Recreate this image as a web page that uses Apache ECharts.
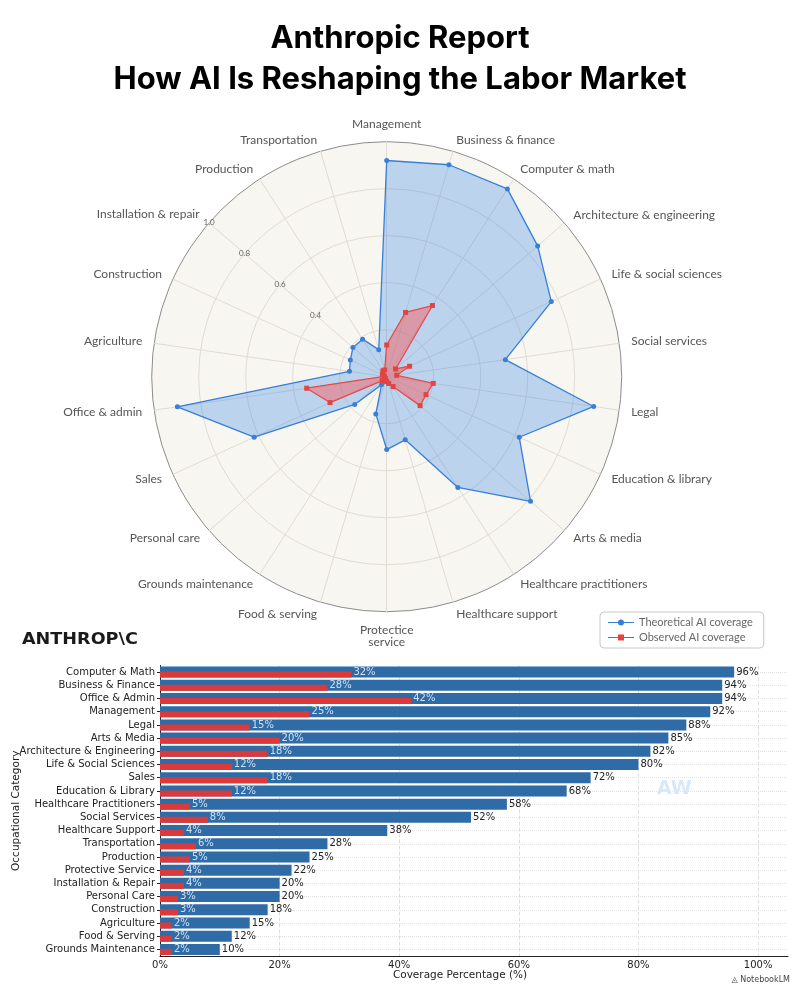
<!DOCTYPE html>
<html><head><meta charset="utf-8">
<script src="https://cdn.jsdelivr.net/npm/echarts@6/dist/echarts.min.js"></script>
<style>html,body{margin:0;padding:0;background:#fff}#c{width:800px;height:999px}</style>
</head><body><div id="c"></div>
<script>
// ---- Radar data (clockwise from top) ----
const radarCategories = ['Management','Business & finance','Computer & math','Architecture & engineering','Life & social sciences','Social services','Legal','Education & library','Arts & media','Healthcare practitioners','Healthcare support','Protectice\nservice','Food & serving','Grounds maintenance','Personal care','Sales','Office & admin','Agriculture','Construction','Installation & repair','Production','Transportation'];
const radarTheoretical = [0.92,0.94,0.95,0.85,0.77,0.51,0.89,0.62,0.81,0.56,0.28,0.31,0.165,0.04,0.18,0.62,0.90,0.16,0.17,0.19,0.19,0.12];
const radarObserved    = [0.135,0.285,0.36,0.05,0.107,0.043,0.20,0.184,0.188,0.05,0.03,0.02,0.02,0.01,0.025,0.265,0.344,0.01,0.02,0.02,0.03,0.03];
const radarTickLabels = ['', '', '0.4', '0.6', '0.8', '1.0'];
const radarLabelAxis = 'Installation & repair';

// ---- Bar data (top to bottom) ----
const barCategories = ['Computer & Math','Business & Finance','Office & Admin','Management','Legal','Arts & Media','Architecture & Engineering','Life & Social Sciences','Sales','Education & Library','Healthcare Practitioners','Social Services','Healthcare Support','Transportation','Production','Protective Service','Installation & Repair','Personal Care','Construction','Agriculture','Food & Serving','Grounds Maintenance'];
const barTheoretical = [96,94,94,92,88,85,82,80,72,68,58,52,38,28,25,22,20,20,18,15,12,10];
const barObserved    = [32,28,42,25,15,20,18,12,18,12,5,8,4,6,5,4,4,3,3,2,2,2];
const xTickLabels = ['0%','20%','40%','60%','80%','100%'];

// ECharts radar lays indicators counter-clockwise; reorder to get a clockwise layout
const n = radarCategories.length;
const order = [0];
for (let i = n - 1; i >= 1; i--) order.push(i);
const reorder = arr => order.map(i => arr[i]);

const indicators = order.map(i => {
  const ind = { name: radarCategories[i], min: 0, max: 1 };
  if (radarCategories[i] === radarLabelAxis) {
    ind.axisLabel = {
      show: true, color: '#666', fontSize: 8, fontFamily: 'Lato', margin: 0,
      align: 'center', verticalAlign: 'middle',
      formatter: v => radarTickLabels[Math.round(v * 5)] || ''
    };
  }
  return ind;
});

const BLUE = '#3a7fd6', RED = '#e24444';
const chart = echarts.init(document.getElementById('c'), null, { renderer: 'canvas' });
chart.setOption({
  backgroundColor: '#ffffff',
  animation: false,
  title: [
    { text: 'Anthropic Report', left: 'center', top: 18, textStyle: { fontSize: 31, fontWeight: 'bold', fontFamily: 'Inter', color: '#000' } },
    { text: 'How AI Is Reshaping the Labor Market', left: 'center', top: 59, textStyle: { fontSize: 31, fontWeight: 'bold', fontFamily: 'Inter', color: '#000' } }
  ],
  legend: {
    orient: 'vertical', left: 600, top: 612,
    borderColor: '#c8c8c8', borderWidth: 1, borderRadius: 4, padding: [5, 11, 5, 8],
    itemGap: 4, itemWidth: 26, itemHeight: 7,
    textStyle: { fontSize: 11, color: '#666', fontFamily: 'Lato' },
    data: [
      { name: 'Theoretical AI coverage', icon: 'path://M0,3.4H26V4.6H0Z M13,1A3,3 0 1,1 12.99,1Z' },
      { name: 'Observed AI coverage', icon: 'path://M0,3.4H26V4.6H0Z M10,1H16V7H10Z' }
    ]
  },
  radar: {
    center: [386.7, 376.7], radius: 235, startAngle: 90, splitNumber: 5,
    shape: 'circle', nameGap: 12,
    axisName: { color: '#555', fontSize: 12, fontFamily: 'Lato' },
    axisLine: { lineStyle: { color: '#e0dcd3', width: 1 } },
    axisTick: { show: false },
    axisLabel: { show: false },
    splitLine: { lineStyle: { color: ['#e0dcd3','#e0dcd3','#e0dcd3','#e0dcd3','#e0dcd3','#8c8c8c'], width: 1 } },
    splitArea: { areaStyle: { color: ['#f8f6f1'] } },
    indicator: indicators
  },
  grid: { left: 160, top: 665.5, width: 628, height: 290.5, containLabel: false, outerBoundsMode: 'none' },
  xAxis: {
    type: 'value', min: 0, max: 105, interval: 20,
    name: 'Coverage Percentage (%)', nameLocation: 'middle', nameGap: 14, nameMoveOverlap: false,
    nameTextStyle: { fontSize: 10.5, color: '#222', fontFamily: 'DejaVu Sans', padding: [0, 28, 0, 0] },
    axisLine: { show: true, lineStyle: { color: '#222', width: 1 } },
    axisTick: { show: false },
    axisLabel: { margin: 4, fontSize: 10, color: '#222', fontFamily: 'DejaVu Sans', showMaxLabel: false,
      formatter: v => (v % 20 === 0 ? xTickLabels[v / 20] : '') },
    splitLine: { show: true, showMaxLine: false, lineStyle: { color: '#dedede', type: 'dashed', width: 1 } }
  },
  yAxis: {
    type: 'category', inverse: true, data: barCategories,
    name: 'Occupational Category', nameLocation: 'middle', nameGap: 138, nameRotate: 90, nameMoveOverlap: false,
    nameTextStyle: { fontSize: 10.5, color: '#222', fontFamily: 'DejaVu Sans' },
    axisLine: { show: true, lineStyle: { color: '#222', width: 1 } },
    axisTick: { show: true, length: 3, alignWithLabel: true, lineStyle: { color: '#222' } },
    axisLabel: { margin: 5, fontSize: 10, color: '#222', fontFamily: 'DejaVu Sans' },
    splitLine: { show: true, alignWithLabel: true, lineStyle: { color: '#e3e3e3', type: 'dotted', width: 1 } }
  },
  series: [
    {
      type: 'radar', symbolSize: 5,
      data: [
        { name: 'Theoretical AI coverage', value: reorder(radarTheoretical), symbol: 'circle',
          itemStyle: { color: BLUE }, lineStyle: { color: BLUE, width: 1.3 },
          areaStyle: { color: 'rgba(45,128,228,0.42)' } },
        { name: 'Observed AI coverage', value: reorder(radarObserved), symbol: 'rect',
          itemStyle: { color: RED }, lineStyle: { color: RED, width: 1.3 },
          areaStyle: { color: 'rgba(245,95,95,0.70)' } }
      ]
    },
    {
      type: 'bar', name: 'Theoretical', data: barTheoretical, barWidth: 11, barGap: '-54.5%',
      itemStyle: { color: '#2f6ba6' },
      label: { show: true, position: 'right', distance: 2, formatter: '{c}%', fontSize: 10, color: '#222', fontFamily: 'DejaVu Sans' }
    },
    {
      type: 'bar', name: 'Observed', data: barObserved, barWidth: 6,
      itemStyle: { color: '#dc3a3a' },
      label: { show: true, position: 'right', distance: 2, offset: [0, -2.5], formatter: '{c}%', fontSize: 10, color: '#cfe1f3', fontFamily: 'DejaVu Sans' }
    }
  ],
  graphic: [
    { type: 'text', left: 22, top: 632, scaleX: 1.1, style: { text: 'ANTHROP\\C', font: 'bold 16px "DejaVu Sans"', fill: '#1a1a1a' } },
    { type: 'text', left: 303, top: 438, style: { text: 'AW', font: 'bold 19px "DejaVu Sans"', fill: 'rgba(170,205,240,0.45)' } },
    { type: 'text', left: 657, top: 780, style: { text: 'AW', font: 'bold 19px "DejaVu Sans"', fill: 'rgba(170,205,240,0.45)' } },
    { type: 'text', right: 10, top: 976, style: { text: '◬ NotebookLM', font: '8px "DejaVu Sans"', fill: '#444' } }
  ]
});
</script></body></html>
